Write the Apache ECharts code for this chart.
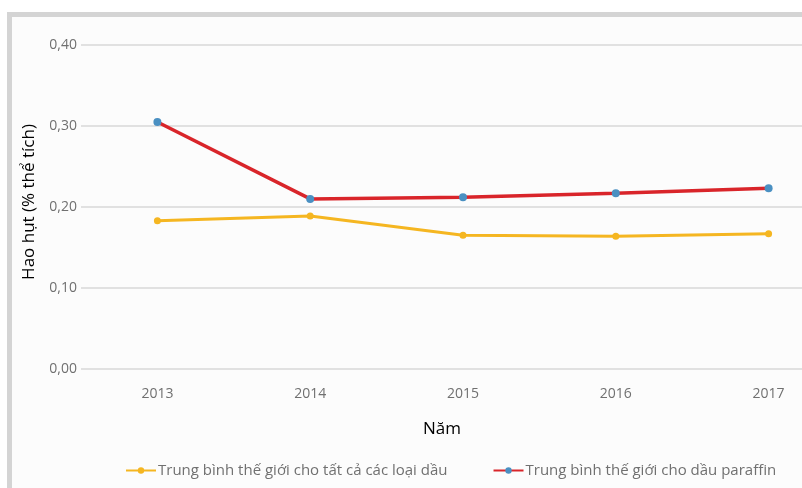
<!DOCTYPE html>
<html>
<head>
<meta charset="utf-8">
<script src="https://cdn.jsdelivr.net/npm/echarts@6/dist/echarts.min.js"></script>
<style>
  html, body { margin: 0; padding: 0; background: #fff; }
  #chart { width: 802px; height: 488px; }
</style>
</head>
<body>
<div id="chart"></div>
<script>
// số liệu
var years = ['2013', '2014', '2015', '2016', '2017'];
var allOils = [0.183, 0.189, 0.165, 0.164, 0.167];
var paraffin = [0.305, 0.210, 0.212, 0.217, 0.223];
var yTicks = [0, 0.1, 0.2, 0.3, 0.4];

var chart = echarts.init(document.getElementById('chart'));

var option = {
    backgroundColor: '#fff',
    animation: false,
    graphic: [{
        type: 'rect',
        z: -10,
        silent: true,
        shape: { x: 9.5, y: 14.5, width: 900, height: 600 },
        style: { fill: '#fcfcfc', stroke: '#d4d4d4', lineWidth: 5 }
    }],
    grid: {
        left: 81,
        width: 764,
        top: 45,
        bottom: 119,
        containLabel: false,
        outerBoundsMode: 'none'
    },
    xAxis: {
        type: 'category',
        data: years,
        boundaryGap: true,
        name: 'Năm',
        nameLocation: 'middle',
        nameGap: 52,
        nameTextStyle: { color: '#000', fontSize: 17, fontFamily: 'Open Sans', padding: [0, 42, 0, 0] },
        axisLine: { show: false },
        axisTick: { show: false },
        axisLabel: { color: '#707070', fontSize: 14, fontFamily: 'Open Sans', margin: 18 }
    },
    yAxis: {
        type: 'value',
        min: yTicks[0],
        max: yTicks[yTicks.length - 1],
        interval: 0.1,
        name: 'Hao hụt (% thể tích)',
        nameLocation: 'middle',
        nameGap: 43,
        nameTextStyle: { color: '#000', fontSize: 17, fontFamily: 'Open Sans', padding: [0, 0, 0, 10] },
        axisLine: { show: false },
        axisTick: { show: false },
        axisLabel: {
            color: '#707070',
            fontSize: 14,
            fontFamily: 'Open Sans',
            margin: 4,
            formatter: function (v) { return v.toFixed(2).replace('.', ','); }
        },
        splitLine: { lineStyle: { color: '#d9d9d9', width: 1.5 } }
    },
    legend: {
        top: 458,
        left: 120,
        itemGap: 45,
        itemWidth: 30,
        itemHeight: 8,
        textStyle: { color: '#707070', fontSize: 15, fontFamily: 'Open Sans', padding: [0, 0, 0, -3] },
        data: ['Trung bình thế giới cho tất cả các loại dầu', 'Trung bình thế giới cho dầu paraffin']
    },
    series: [{
        name: 'Trung bình thế giới cho tất cả các loại dầu',
        type: 'line',
        data: allOils,
        color: '#f5b621',
        symbol: 'circle',
        symbolSize: 7,
        lineStyle: { width: 3, color: '#f5b621' },
        itemStyle: { color: '#f5b621' }
    }, {
        name: 'Trung bình thế giới cho dầu paraffin',
        type: 'line',
        data: paraffin,
        color: '#d9252a',
        symbol: 'circle',
        symbolSize: 8,
        lineStyle: { width: 3.5, color: '#d9252a' },
        itemStyle: { color: '#4a90c2' }
    }]
};

chart.setOption(option);
</script>
</body>
</html>
